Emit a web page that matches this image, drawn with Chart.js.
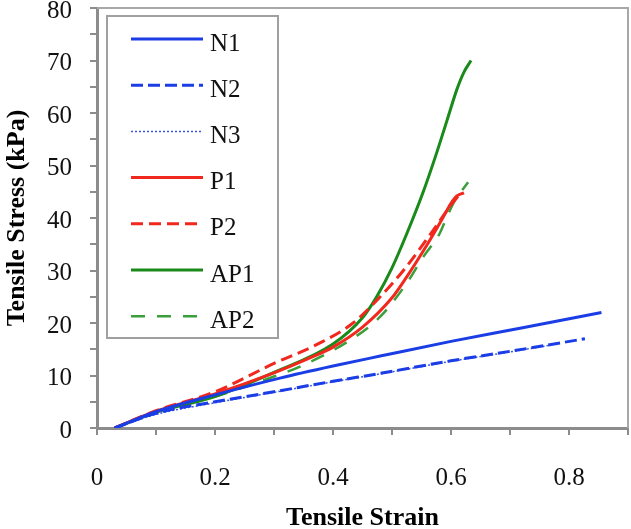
<!DOCTYPE html>
<html><head><meta charset="utf-8">
<script src="https://cdn.jsdelivr.net/npm/chart.js@4.4.0/dist/chart.umd.min.js"></script>
<style>html,body{margin:0;padding:0;background:#fff}canvas{display:block}</style>
</head><body>
<canvas id="c" width="631" height="529"></canvas>
<script>
// ---- data ----
const seriesLabels = ['N1','N2','N3','P1','P2','AP1','AP2'];

const n1Strain = [0.03,0.1,0.2,0.31,0.4,0.48,0.6,0.717,0.855];
const n1Stress = [0,3.1,6.3,9.5,11.8,13.7,16.5,19.0,22.0];

const n2Strain = [0.03,0.1,0.2,0.3,0.4,0.48,0.6,0.7,0.827];
const n2Stress = [0,2.8,5.0,6.9,8.9,10.4,12.8,14.6,17.0];

const n3Strain = [0.03,0.1,0.2,0.3,0.4,0.5,0.6,0.7,0.77];
const n3Stress = [0,2.6,4.8,6.8,8.8,10.7,12.7,14.5,15.8];

const p1Strain = [0.03,0.1,0.2,0.3,0.36,0.4,0.45,0.5,0.525,0.56,0.586,0.6,0.61,0.622];
const p1Stress = [0,3.2,6.5,10.5,13.3,15.4,19.2,24.8,28.8,35.0,40.0,42.8,44.2,44.8];

const p2Strain = [0.03,0.1,0.2,0.3,0.378,0.434,0.48,0.52,0.57,0.6,0.617];
const p2Stress = [0,3.3,6.9,12.3,16.2,20.0,25.0,30.1,37.7,42.5,44.8];

const ap1Strain = [0.03,0.1,0.2,0.3,0.4,0.45,0.474,0.5,0.525,0.553,0.573,0.593,0.61,0.622,0.634];
const ap1Stress = [0,3.0,6.0,10.6,16.0,21.0,25.0,30.5,37.0,45.0,51.5,58.5,64.5,67.8,70.0];

const ap2Strain = [0.03,0.1,0.2,0.3,0.344,0.43,0.48,0.525,0.553,0.581,0.593,0.607,0.629];
const ap2Stress = [0,3.0,6.0,9.8,11.7,16.8,21.2,27.6,32.6,37.1,40.2,43.4,46.8];

const xTickLabels = ['0','0.2','0.4','0.6','0.8'];
const yTickLabels = ['0','10','20','30','40','50','60','70','80'];

// ---- build ----
const pts = (xs, ys) => xs.map((x, i) => ({x, y: ys[i]}));
const BLUE = '#1a3de6', RED = '#f0281e', GREEN = '#1a8a1a';

const series = [
  {data: pts(n1Strain, n1Stress), color: BLUE, width: 3, dash: []},
  {data: pts(n2Strain, n2Stress), color: BLUE, width: 3, dash: [12,5]},
  {data: pts(n3Strain, n3Stress), color: '#3c54e8', width: 1.5, dash: [2,2]},
  {data: pts(p1Strain, p1Stress), color: RED, width: 3, dash: []},
  {data: pts(p2Strain, p2Stress), color: RED, width: 3, dash: [12,6]},
  {data: pts(ap1Strain, ap1Stress), color: GREEN, width: 3, dash: []},
  {data: pts(ap2Strain, ap2Stress), color: '#3a9e3a', width: 2.5, dash: [14,12]}
];

const datasets = series.map((s, i) => ({
  label: seriesLabels[i],
  data: s.data,
  borderColor: s.color,
  backgroundColor: s.color,
  borderWidth: s.width,
  borderDash: s.dash,
  pointRadius: 0,
  fill: false,
  cubicInterpolationMode: 'monotone'
}));

const frame = {
  id: 'frame',
  beforeDatasetsDraw(chart) {
    const {ctx, chartArea: {left, top, right, bottom}} = chart;
    ctx.save();
    ctx.strokeStyle = '#a8a8a8';
    ctx.lineWidth = 2;
    ctx.beginPath();
    ctx.moveTo(left, top); ctx.lineTo(right, top); ctx.lineTo(right, bottom);
    ctx.stroke();
    ctx.restore();
  }
};

const legendBox = {
  id: 'legendBox',
  afterDatasetsDraw(chart) {
    const ctx = chart.ctx;
    const x0 = 107, y0 = 16, w = 171, h = 322;
    ctx.save();
    ctx.fillStyle = '#fff';
    ctx.fillRect(x0, y0, w, h);
    ctx.strokeStyle = '#a0a0a0';
    ctx.lineWidth = 2;
    ctx.strokeRect(x0, y0, w, h);
    chart.data.datasets.forEach((ds, i) => {
      const y = 39 + i * 46.2;
      ctx.beginPath();
      ctx.setLineDash(ds.borderDash || []);
      ctx.strokeStyle = ds.borderColor;
      ctx.lineWidth = ds.borderWidth;
      ctx.moveTo(131, y); ctx.lineTo(203, y);
      ctx.stroke();
      ctx.setLineDash([]);
      ctx.fillStyle = '#111';
      ctx.font = '25px "Liberation Serif"';
      ctx.textBaseline = 'middle';
      ctx.textAlign = 'left';
      ctx.fillText(ds.label, 210, y + 5);
    });
    ctx.restore();
  }
};

const tickFont = {family: '"Liberation Serif"', size: 25};
const titleFont = {family: '"Liberation Serif"', size: 26, weight: 'bold', lineHeight: 1};

new Chart(document.getElementById('c'), {
  type: 'line',
  data: {datasets},
  plugins: [frame, legendBox],
  options: {
    responsive: false,
    animation: false,
    devicePixelRatio: 1,
    layout: {padding: {left: 0, right: 3, top: 8, bottom: 0}},
    plugins: {legend: {display: false}, tooltip: {enabled: false}},
    scales: {
      x: {
        type: 'linear', min: 0, max: 0.9,
        ticks: {
          stepSize: 0.1, autoSkip: false, maxRotation: 0, minRotation: 0,
          font: tickFont, color: '#111', padding: 28,
          callback: (v) => {
            const r = Math.round(v * 10);
            return (r % 2 === 0 && r / 2 < xTickLabels.length) ? xTickLabels[r / 2] : '';
          }
        },
        grid: {drawOnChartArea: false, drawTicks: true, tickLength: 7, color: '#8c8c8c', lineWidth: 2},
        border: {color: '#8c8c8c', width: 3},
        title: {display: true, text: 'Tensile Strain', font: titleFont, color: '#000', padding: {top: 0, bottom: -2}},
        afterFit: (s) => { s.height = 101; s.paddingLeft = 0; s.paddingRight = 0; }
      },
      y: {
        type: 'linear', min: 0, max: 80,
        ticks: {
          stepSize: 5, autoSkip: false, labelOffset: 3,
          font: tickFont, color: '#111', padding: 18,
          callback: (v) => {
            const r = Math.round(v);
            return (r % 10 === 0) ? yTickLabels[r / 10] : '';
          }
        },
        grid: {drawOnChartArea: false, drawTicks: true, tickLength: 7, color: '#8c8c8c', lineWidth: 2},
        border: {color: '#8c8c8c', width: 3},
        title: {display: true, text: 'Tensile Stress (kPa)', font: titleFont, color: '#000', padding: {top: 4, bottom: 0}},
        afterFit: (s) => { s.width = 97; s.paddingTop = 0; s.paddingBottom = 0; }
      }
    }
  }
});
</script>
</body></html>
